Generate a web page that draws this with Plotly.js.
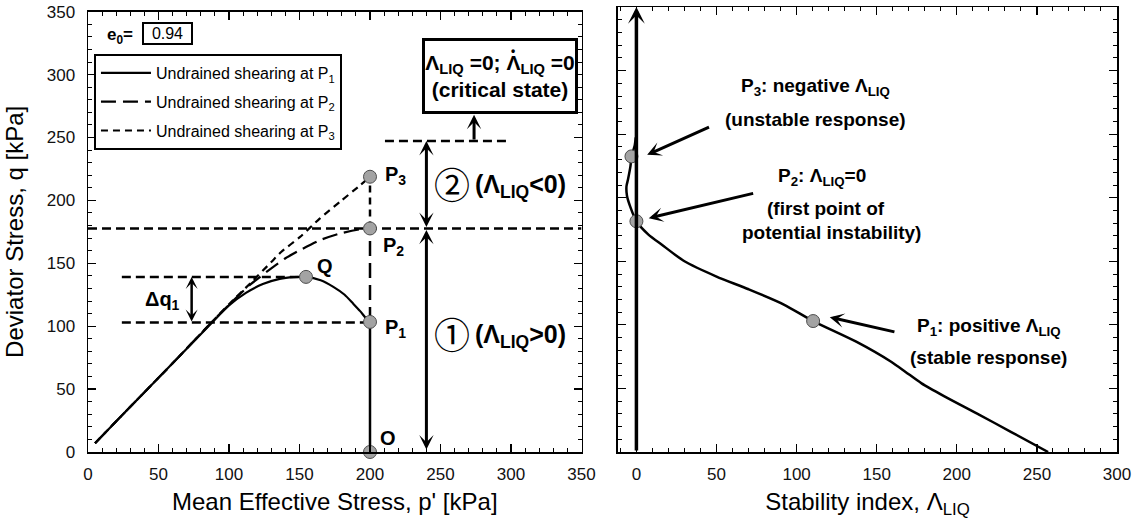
<!DOCTYPE html>
<html><head><meta charset="utf-8">
<script src="https://cdn.plot.ly/plotly-3.0.1.min.js"></script>
<style>html,body{margin:0;padding:0;background:#fff}#chart{width:1140px;height:522px}</style>
</head><body><div id="chart"></div>
<script>
// ---------- data (left: p' vs q) ----------
const p1P = [5,30,60,88,100,112,124,136,146,154.6,165,174,182,188,193,197,200];
const p1Q = [7,36,70.5,103,116.5,126.5,133.5,137.6,139,139.2,136.5,131.3,125,118,112,106.5,103.4];
const p2P = [5,30,60,88,100,115,130,140,150.4,164.5,178.7,193,200];
const p2Q = [7,36,70.5,103.5,117,133,146,154,160.5,168.4,173.7,177,177.7];
const p3P = [5,30,60,88,100,115,130,137,150.4,164.5,178.7,193,200];
const p3Q = [7,36,70.5,103.5,117.5,134,151,159,171,185.7,198.9,212,218.8];
const segOP = [200,200],   segOQ = [0,103.4];
const seg12P = [200,200],  seg12Q = [103.4,177.7];
const seg23P = [200,200],  seg23Q = [177.7,218.8];
const refQP = [24,155],    refQQ = [139.2,139.2];
const refP1P = [24,200],   refP1Q = [103,103];
const refP2P = [0,350],    refP2Q = [177.7,177.7];
const refCSP = [210.6,298],refCSQ = [247.2,247.2];
const ptLabels = ['O','P1','Q','P2','P3'];
const ptP = [200,200,154.6,200,200];
const ptQ = [0,103.4,139.2,177.7,218.8];
const legendNames = ['Undrained shearing at P<sub>1</sub>','Undrained shearing at P<sub>2</sub>','Undrained shearing at P<sub>3</sub>'];
const e0 = '0.94';
// ---------- data (right: stability index vs q) ----------
const lamX = [257,234,212.4,192,178,168,159,137.2,110.3,92,70,50,30,15.9,7.5,0,-3.7,-5.9,-6.2,-5.2,-3.7,-3.1,-1.1,-0.4];
const lamQ = [0,15.7,30.4,44,54,63,71,86.8,103,116,128,138,150,163,171,181.5,192.4,201.6,209,214.7,225,232.5,240.8,247.4];
const rPtX = [110.3,0,-3.1];
const rPtQ = [103,181.5,232.5];
const tickVals = [0,50,100,150,200,250,300,350];

const F = 'Liberation Sans, Arial, Helvetica, sans-serif';
const blk = '#000';

function ln(x,y,dash,w,extra){return Object.assign({x:x,y:y,mode:'lines',showlegend:false,hoverinfo:'skip',line:{color:blk,width:w,dash:dash}},extra||{});}

const traces = [
  ln(p1P,p1Q,'solid',2.2,{name:legendNames[0],showlegend:true,legendgroup:'a',line:{color:blk,width:2.2,shape:'spline',smoothing:0.6}}),
  ln(p2P,p2Q,'15px,7px',2.2,{name:legendNames[1],showlegend:true,legendgroup:'b',line:{color:blk,width:2.2,dash:'15px,7px',shape:'spline',smoothing:0.6}}),
  ln(p3P,p3Q,'7px,5px',2.2,{name:legendNames[2],showlegend:true,legendgroup:'c',line:{color:blk,width:2.2,dash:'7px,5px',shape:'spline',smoothing:0.6}}),
  ln(segOP,segOQ,'solid',2.5),
  ln(seg12P,seg12Q,'15px,7px',2.5),
  ln(seg23P,seg23Q,'7px,5px',2.5),
  ln(refQP,refQQ,'9px,5px',2.5),
  ln(refP1P,refP1Q,'9px,5px',2.5),
  ln(refP2P,refP2Q,'9px,5px',2.5),
  ln(refCSP,refCSQ,'9px,5px',2.5),
  {x:ptP,y:ptQ,text:ptLabels,mode:'markers',showlegend:false,hoverinfo:'skip',cliponaxis:false,
   marker:{size:13,color:'#a3a3a3',line:{color:'#4d4d4d',width:1}}},
  {x:lamX,y:lamQ,xaxis:'x2',yaxis:'y2',mode:'lines',showlegend:false,hoverinfo:'skip',
   line:{color:blk,width:2.5,shape:'spline',smoothing:0.7}},
  {x:rPtX,y:rPtQ,xaxis:'x2',yaxis:'y2',mode:'markers',showlegend:false,hoverinfo:'skip',cliponaxis:false,
   marker:{size:13,color:'#a3a3a3',line:{color:'#4d4d4d',width:1}}}
];

function txt(xr,yr,x,y,t,size,o){return Object.assign({xref:xr,yref:yr,x:x,y:y,text:t,showarrow:false,font:{family:F,size:size,color:blk},xanchor:'center',yanchor:'middle'},o||{});}
function arr(xr,yr,x0,y0,x1,y1,w,both,size){return {xref:xr,yref:yr,axref:xr,ayref:yr,ax:x0,ay:y0,x:x1,y:y1,text:'',showarrow:true,
  arrowhead:3,startarrowhead:3,arrowside:both?'end+start':'end',arrowsize:size||0.8,startarrowsize:size||0.8,arrowwidth:w,arrowcolor:blk,standoff:0,startstandoff:0};}

const ann = [
  txt('x','y',22.7,331,'<b>e<sub>0</sub>=</b>',17),
  txt('x','y',56.4,332.7,e0,16,{bordercolor:blk,borderwidth:2,borderpad:1.5,width:44,height:16,bgcolor:'#fff'}),
  txt('x','y',168,147.5,'<b>Q</b>',20),
  txt('x','y',213,11.5,'<b>O</b>',20),
  txt('x','y',209.5,219.4,'<b>P<sub>3</sub></b>',20,{xanchor:'left'}),
  txt('x','y',207.8,163,'<b>P<sub>2</sub></b>',20,{xanchor:'left'}),
  txt('x','y',209.5,97.8,'<b>P<sub>1</sub></b>',20,{xanchor:'left'}),
  txt('x','y',66.7,120.8,'<b>Δq<sub>1</sub></b>',20,{xanchor:'right'}),
  txt('x','y',257.9,94.4,'①',36,{font:{family:'Noto Sans CJK JP',size:36,color:blk}}),
  txt('x','y',257.9,213.6,'②',36,{font:{family:'Noto Sans CJK JP',size:36,color:blk}}),
  txt('x','y',273.3,92.5,'<b>(Λ<sub>LIQ</sub>&gt;0)</b>',25,{xanchor:'left'}),
  txt('x','y',273.3,211.5,'<b>(Λ<sub>LIQ</sub>&lt;0)</b>',25,{xanchor:'left'}),
  txt('x','y',292.2,298.7,'<b>Λ<sub>LIQ</sub> =0; Λ<sub>LIQ</sub> =0</b><br><b>(critical state)</b>',21,
      {bordercolor:blk,borderwidth:3,borderpad:0,width:150,height:70,bgcolor:'#fff'}),
  txt('x','y',301.4,318.5,'<b>•</b>',12),
  arr('x','y',73.5,102.6,73.5,139.2,2.5,true),
  arr('x','y',240,177.7,240,247.2,3,true),
  arr('x','y',240,177.7,240,2,3,true),
  arr('x','y',273.8,247.2,273.8,268,3,false),
  // right plot
  txt('x2','y2',112,287.4,'<b>P<sub>3</sub>: negative Λ<sub>LIQ</sub></b>',19),
  txt('x2','y2',112,261.8,'<b>(unstable response)</b>',19),
  txt('x2','y2',116,216,'<b>P<sub>2</sub>: Λ<sub>LIQ</sub>=0</b>',19),
  txt('x2','y2',118.6,191.6,'<b>(first point of</b>',19),
  txt('x2','y2',121.8,172.8,'<b>potential instability)</b>',19),
  txt('x2','y2',220,98.2,'<b>P<sub>1</sub>: positive Λ<sub>LIQ</sub></b>',19),
  txt('x2','y2',220,74.6,'<b>(stable response)</b>',19),
  arr('x2','y2',46.25,256,6.7,233.7,3,false),
  arr('x2','y2',73.8,203.7,7.7,183.9,3,false),
  arr('x2','y2',162,94.2,120.7,106,3,false),
  arr('x2','y2',0,0,0,350,3.5,false)
];

function ax(o){return Object.assign({showline:true,linecolor:blk,linewidth:1.5,mirror:'allticks',ticks:'inside',ticklen:8,tickwidth:1.2,tickcolor:blk,
  showgrid:false,zeroline:false,automargin:false,fixedrange:true,
  tickfont:{family:F,size:17,color:'#111'},
  minor:{dtick:10,ticks:'inside',ticklen:4,tickwidth:1,tickcolor:blk}},o);}

const layout = {
  width:1140,height:522,margin:{l:88,r:23,t:7,b:70},
  paper_bgcolor:'#fff',plot_bgcolor:'#fff',hovermode:false,
  font:{family:F,color:blk},
  xaxis:ax({domain:[0,0.4796],range:[0,350],tickvals:tickVals,ticklabelstandoff:6,
     title:{text:"Mean Effective Stress, p' [kPa]",font:{family:F,size:24,color:blk},standoff:10}}),
  yaxis:ax({domain:[0,0.98944],range:[0,350],tickvals:tickVals,ticklabelstandoff:8,
     title:{text:'Deviator Stress, q [kPa]',font:{family:F,size:24,color:blk},standoff:16}}),
  xaxis2:ax({domain:[0.51506,1],range:[-11.5,300],anchor:'y2',tickvals:[0,50,100,150,200,250,300],ticklabelstandoff:6,
     title:{text:'Stability index, Λ<sub>LIQ</sub>',font:{family:F,size:24,color:blk},standoff:10}}),
  yaxis2:ax({domain:[0,1],range:[0,350],anchor:'x2',tickvals:tickVals,showticklabels:false}),
  showlegend:true,
  legend:{x:0.0058,y:0.8944,xanchor:'left',yanchor:'top',bgcolor:'#fff',bordercolor:blk,borderwidth:2,
     font:{family:F,size:16,color:blk},itemwidth:50,tracegroupgap:5},
  annotations:ann
};

Plotly.newPlot('chart',traces,layout,{displayModeBar:false,staticPlot:true});
</script></body></html>
